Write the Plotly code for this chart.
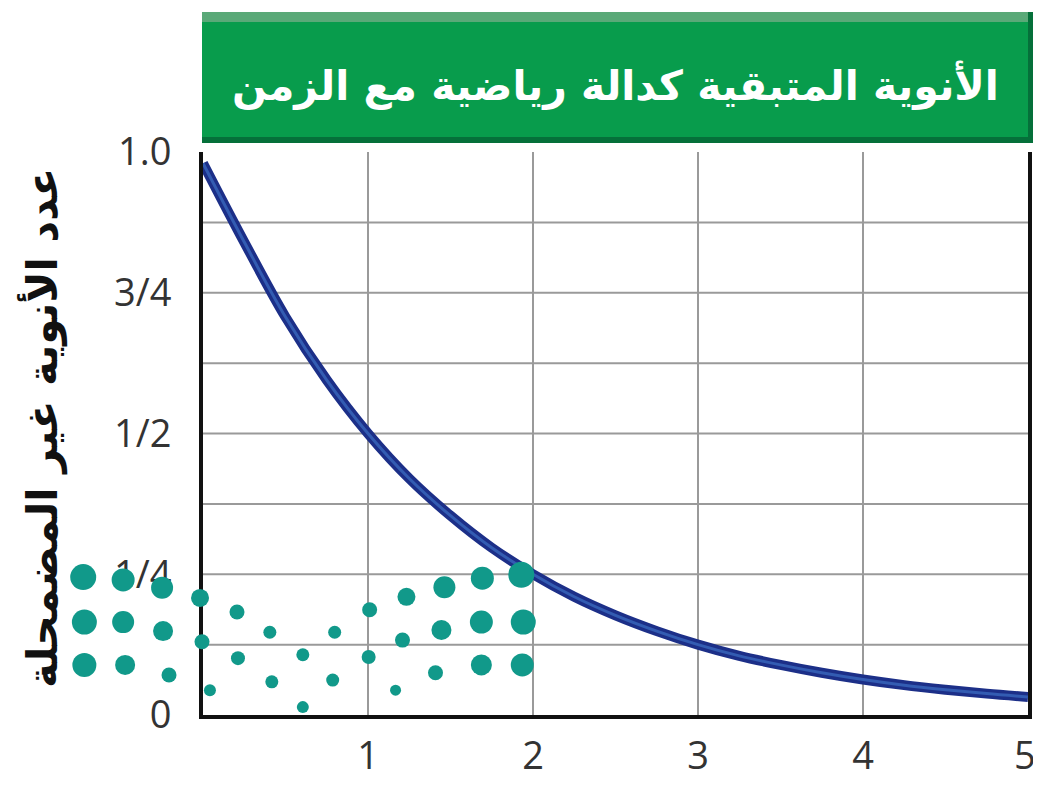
import plotly.graph_objects as go

# ---- data ----
title_text = "الأنوية المتبقية كدالة رياضية مع الزمن"
y_title = "عدد الأنوية غير المضمحلة"

curve_x = [0, 0.25, 0.5, 0.75, 1.0, 1.25, 1.5, 1.75, 2.0, 2.25, 2.5, 2.75,
           3.0, 3.25, 3.5, 3.75, 4.0, 4.25, 4.5, 4.75, 5.0]
curve_y = [0.98, 0.84, 0.707, 0.595, 0.50, 0.42, 0.354, 0.297, 0.25, 0.21, 0.177,
           0.149, 0.125, 0.105, 0.089, 0.075, 0.063, 0.053, 0.045, 0.038, 0.032]

x_tick_vals = [1, 2, 3, 4, 5]
x_tick_text = ["1", "2", "3", "4", "5\u2009"]
y_tick_vals = [0, 0.25, 0.5, 0.75, 1.0]
y_tick_text = ["0", "1/4", "1/2", "3/4", "1.0"]
y_grid = [0.125, 0.25, 0.375, 0.5, 0.625, 0.75, 0.875]

dot_x = [-0.726, -0.484, -0.248, -0.018, 0.206, 0.405, 0.798, 1.010, 1.233, 1.463, 1.693, 1.929,
         -0.719, -0.484, -0.242, -0.006, 0.212, 0.605, 1.004, 1.209, 1.445, 1.687, 1.941,
         -0.719, -0.472, -0.206, 0.042, 0.417, 0.605, 0.786, 1.167, 1.409, 1.687, 1.935]
dot_y = [0.245, 0.240, 0.226, 0.208, 0.183, 0.147, 0.147, 0.187, 0.210, 0.227, 0.243, 0.249,
         0.165, 0.165, 0.149, 0.130, 0.101, 0.107, 0.103, 0.133, 0.151, 0.165, 0.165,
         0.089, 0.089, 0.071, 0.044, 0.059, 0.014, 0.062, 0.044, 0.075, 0.089, 0.089]
dot_size = [26, 23, 22, 18, 15, 13, 13, 15, 18, 22, 23, 26,
            25, 22, 20, 15, 14, 13, 14, 15, 20, 23, 25,
            24, 20, 15, 12, 13, 12, 13, 11, 15, 21, 23]

# page body has an 8px margin, so the figure is offset 8px in the window
W, H = 1033, 777
PL, PR = 195, 1020          # plot area left/right in px
PT, PB = 144, 707           # plot area top/bottom in px
XMIN, XMAX = 0, 5
px_per_unit = (PR - PL) / (XMAX - XMIN)
ph = PB - PT


def py(pix):
    return (PB - pix) / ph


fig = go.Figure()

# curve: dark outer stroke + lighter core
fig.add_trace(go.Scatter(x=curve_x, y=curve_y, mode="lines", line_shape="spline",
                         line=dict(color="#1c2f88", width=10), hoverinfo="skip",
                         showlegend=False))
fig.add_trace(go.Scatter(x=curve_x, y=curve_y, mode="lines", line_shape="spline",
                         line=dict(color="#335cb2", width=3), hoverinfo="skip",
                         showlegend=False))

# decorative nuclei dots (on a hidden, wider x-axis with the same scale)
fig.add_trace(go.Scatter(x=dot_x, y=dot_y, mode="markers", cliponaxis=False,
                         xaxis="x2", yaxis="y",
                         marker=dict(color="#11998a", size=dot_size, opacity=1,
                                     line=dict(width=0)),
                         hoverinfo="skip", showlegend=False))

shapes = []
for gy in y_grid:
    shapes.append(dict(type="line", xref="x", yref="y", x0=XMIN, x1=XMAX, y0=gy, y1=gy,
                       line=dict(color="#9a9a9a", width=2), layer="below"))
# title banner
bx0, bx1, bx1i = 194 / W, 1025 / W, 1020 / W
shapes.append(dict(type="rect", xref="paper", yref="paper", x0=bx0, x1=bx1,
                   y0=py(135), y1=py(4), fillcolor="#05703a", line=dict(width=0)))
shapes.append(dict(type="rect", xref="paper", yref="paper", x0=bx0, x1=bx1i,
                   y0=py(129), y1=py(4), fillcolor="#089c4c", line=dict(width=0)))
shapes.append(dict(type="rect", xref="paper", yref="paper", x0=bx0, x1=bx1i,
                   y0=py(14), y1=py(4), fillcolor="#5aa978", line=dict(width=0)))

fig.update_layout(
    width=W, height=H,
    margin=dict(l=0, r=0, t=PT, b=H - PB),
    paper_bgcolor="white", plot_bgcolor="rgba(0,0,0,0)",
    shapes=shapes,
    annotations=[
        dict(text="<b>" + title_text + "</b>", xref="paper", yref="paper",
             x=(PL + PR) / 2 / W, y=py(77), xanchor="center", yanchor="middle",
             showarrow=False,
             font=dict(family="DejaVu Sans", size=41, color="white")),
        dict(text="<b>" + y_title + "</b>", xref="paper", yref="paper",
             x=34 / W, y=py(420), xanchor="center", yanchor="middle",
             textangle=-90, showarrow=False,
             font=dict(family="DejaVu Sans", size=42, color="#111111")),
    ],
    xaxis=dict(domain=[PL / W, PR / W], range=[XMIN, XMAX],
               tickvals=x_tick_vals, ticktext=x_tick_text,
               showgrid=True, gridcolor="#9a9a9a", gridwidth=2,
               showline=True, linecolor="#111111", linewidth=4, mirror=False,
               zeroline=False, ticks="", ticklabelstandoff=4, automargin=False,
               ticklabeloverflow="allow",
               tickfont=dict(family="Open Sans", size=38, color="#333333"),
               layer="below traces"),
    xaxis2=dict(domain=[0, 1], anchor="y",
                range=[XMIN - PL / px_per_unit, XMIN + (W - PL) / px_per_unit],
                visible=False, showgrid=False, zeroline=False, automargin=False),
    yaxis=dict(range=[0, 1], tickvals=y_tick_vals, ticktext=y_tick_text,
               anchor="x", showgrid=False,
               showline=True, linecolor="#111111", linewidth=4, mirror=True,
               zeroline=False, ticks="", ticklabelstandoff=20, automargin=False,
               tickfont=dict(family="Open Sans", size=38, color="#333333"),
               layer="below traces"),
)

fig.write_html("out.html")
